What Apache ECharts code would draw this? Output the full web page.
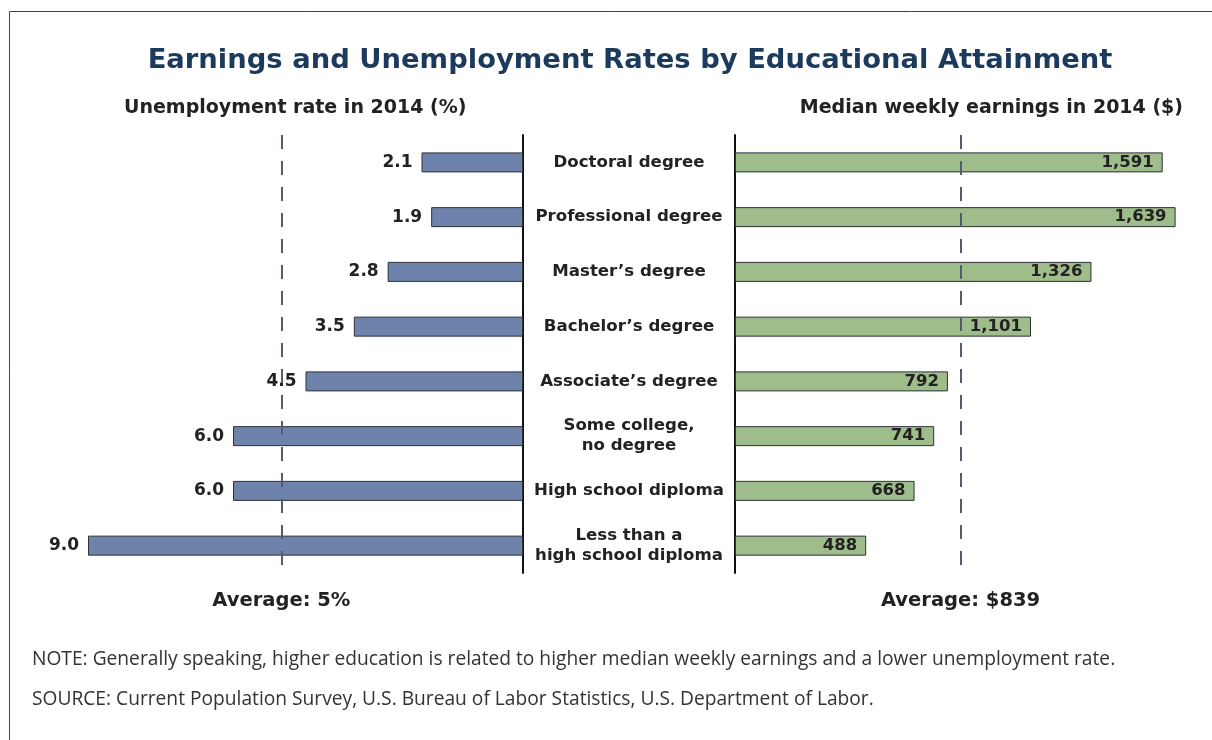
<!DOCTYPE html>
<html>
<head>
<meta charset="utf-8">
<script src="https://cdn.jsdelivr.net/npm/echarts@6/dist/echarts.min.js"></script>
<style>
html,body{margin:0;padding:0;background:#fff;}
#chart{width:1212px;height:740px;}
</style>
</head>
<body>
<div id="chart"></div>
<script>
const categories = ['Doctoral degree', 'Professional degree', 'Master\u2019s degree', 'Bachelor\u2019s degree', 'Associate\u2019s degree', 'Some college,\nno degree', 'High school diploma', 'Less than a\nhigh school diploma'];
const unemployment = [2.1, 1.9, 2.8, 3.5, 4.5, 6.0, 6.0, 9.0];
const earnings = [1591, 1639, 1326, 1101, 792, 741, 668, 488];
const avgUnemployment = 5;
const avgEarnings = 839;
const titleText = 'Earnings and Unemployment Rates by Educational Attainment';
const leftHeader = 'Unemployment rate in 2014 (%)';
const rightHeader = 'Median weekly earnings in 2014 ($)';
const avgUnemploymentLabel = 'Average: 5%';
const avgEarningsLabel = 'Average: $839';
const noteText = 'NOTE: Generally speaking, higher education is related to higher median weekly earnings and a lower unemployment rate.';
const sourceText = 'SOURCE: Current Population Survey, U.S. Bureau of Labor Statistics, U.S. Department of Labor.';

const BOLD = '"DejaVu Sans", Verdana, sans-serif';
const chart = echarts.init(document.getElementById('chart'), null, {renderer: 'canvas'});

const dashStyle = {type: [14, 12], color: '#575b6e', width: 2};

const option = {
  animation: false,
  backgroundColor: '#ffffff',
  grid: [
    {left: 88, top: 135, width: 435, height: 438},
    {left: 735, top: 135, width: 457, height: 438}
  ],
  xAxis: [
    {type: 'value', gridIndex: 0, inverse: true, min: 0, max: 9.0, show: false},
    {type: 'value', gridIndex: 1, min: 0, max: 1700, show: false}
  ],
  yAxis: [
    {type: 'category', gridIndex: 0, data: categories, inverse: true, position: 'right',
     axisLine: {show: true, lineStyle: {color: '#111', width: 2}}, axisTick: {show: false},
     axisLabel: {show: false}, splitLine: {show: false}},
    {type: 'category', gridIndex: 1, data: categories, inverse: true, position: 'left',
     axisLine: {show: true, lineStyle: {color: '#111', width: 2}}, axisTick: {show: false},
     axisLabel: {show: true, margin: 106, align: 'center', fontFamily: BOLD, fontWeight: 'bold',
       fontSize: 16.6, color: '#222', lineHeight: 20},
     splitLine: {show: false}}
  ],
  series: [
    {
      type: 'bar', xAxisIndex: 0, yAxisIndex: 0, data: unemployment, barWidth: 20,
      itemStyle: {color: '#6e83ac', borderColor: '#2e3136', borderWidth: 1},
      label: {show: true, position: 'left', distance: 9, fontFamily: BOLD, fontWeight: 'bold',
        fontSize: 17, color: '#222', formatter: p => p.value.toFixed(1)},
      markLine: {silent: true, symbol: 'none', lineStyle: dashStyle, label: {show: false},
        data: [{xAxis: avgUnemployment}]}
    },
    {
      type: 'bar', xAxisIndex: 1, yAxisIndex: 1, data: earnings, barWidth: 20,
      itemStyle: {color: '#9fbc8b', borderColor: '#2e3136', borderWidth: 1},
      label: {show: true, position: 'insideRight', distance: 9, fontFamily: BOLD, fontWeight: 'bold',
        fontSize: 16.5, color: '#222', formatter: p => p.value.toLocaleString('en-US')},
      markLine: {silent: true, symbol: 'none', lineStyle: dashStyle, label: {show: false},
        data: [{xAxis: avgEarnings}]}
    }
  ]
};
chart.setOption(option);

const xAvgL = chart.convertToPixel({xAxisIndex: 0}, avgUnemployment);
const xAvgR = chart.convertToPixel({xAxisIndex: 1}, avgEarnings);

chart.setOption({
  graphic: [
    {type: 'polyline', silent: true, shape: {points: [[9.5, 740], [9.5, 11.5], [1212, 11.5]]},
     style: {stroke: '#444', lineWidth: 1, fill: null}},
    {type: 'text', x: 630, y: 61, style: {text: titleText, font: 'bold 27.4px ' + BOLD,
      fill: '#1b3a5c', textAlign: 'center', textVerticalAlign: 'middle'}},
    {type: 'text', x: 124, y: 108, style: {text: leftHeader, font: 'bold 19px ' + BOLD,
      fill: '#222', textAlign: 'left', textVerticalAlign: 'middle'}},
    {type: 'text', x: 1183, y: 108, style: {text: rightHeader, font: 'bold 19px ' + BOLD,
      fill: '#222', textAlign: 'right', textVerticalAlign: 'middle'}},
    {type: 'text', x: xAvgL, y: 601, style: {text: avgUnemploymentLabel, font: 'bold 19.5px ' + BOLD,
      fill: '#222', textAlign: 'center', textVerticalAlign: 'middle'}},
    {type: 'text', x: xAvgR, y: 601, style: {text: avgEarningsLabel, font: 'bold 19.5px ' + BOLD,
      fill: '#222', textAlign: 'center', textVerticalAlign: 'middle'}},
    {type: 'text', x: 32, y: 660, style: {text: noteText, font: '19.2px "Open Sans", sans-serif',
      fill: '#333', textAlign: 'left', textVerticalAlign: 'middle'}},
    {type: 'text', x: 32, y: 700, style: {text: sourceText, font: '19.2px "Open Sans", sans-serif',
      fill: '#333', textAlign: 'left', textVerticalAlign: 'middle'}}
  ]
});
</script>
</body>
</html>
